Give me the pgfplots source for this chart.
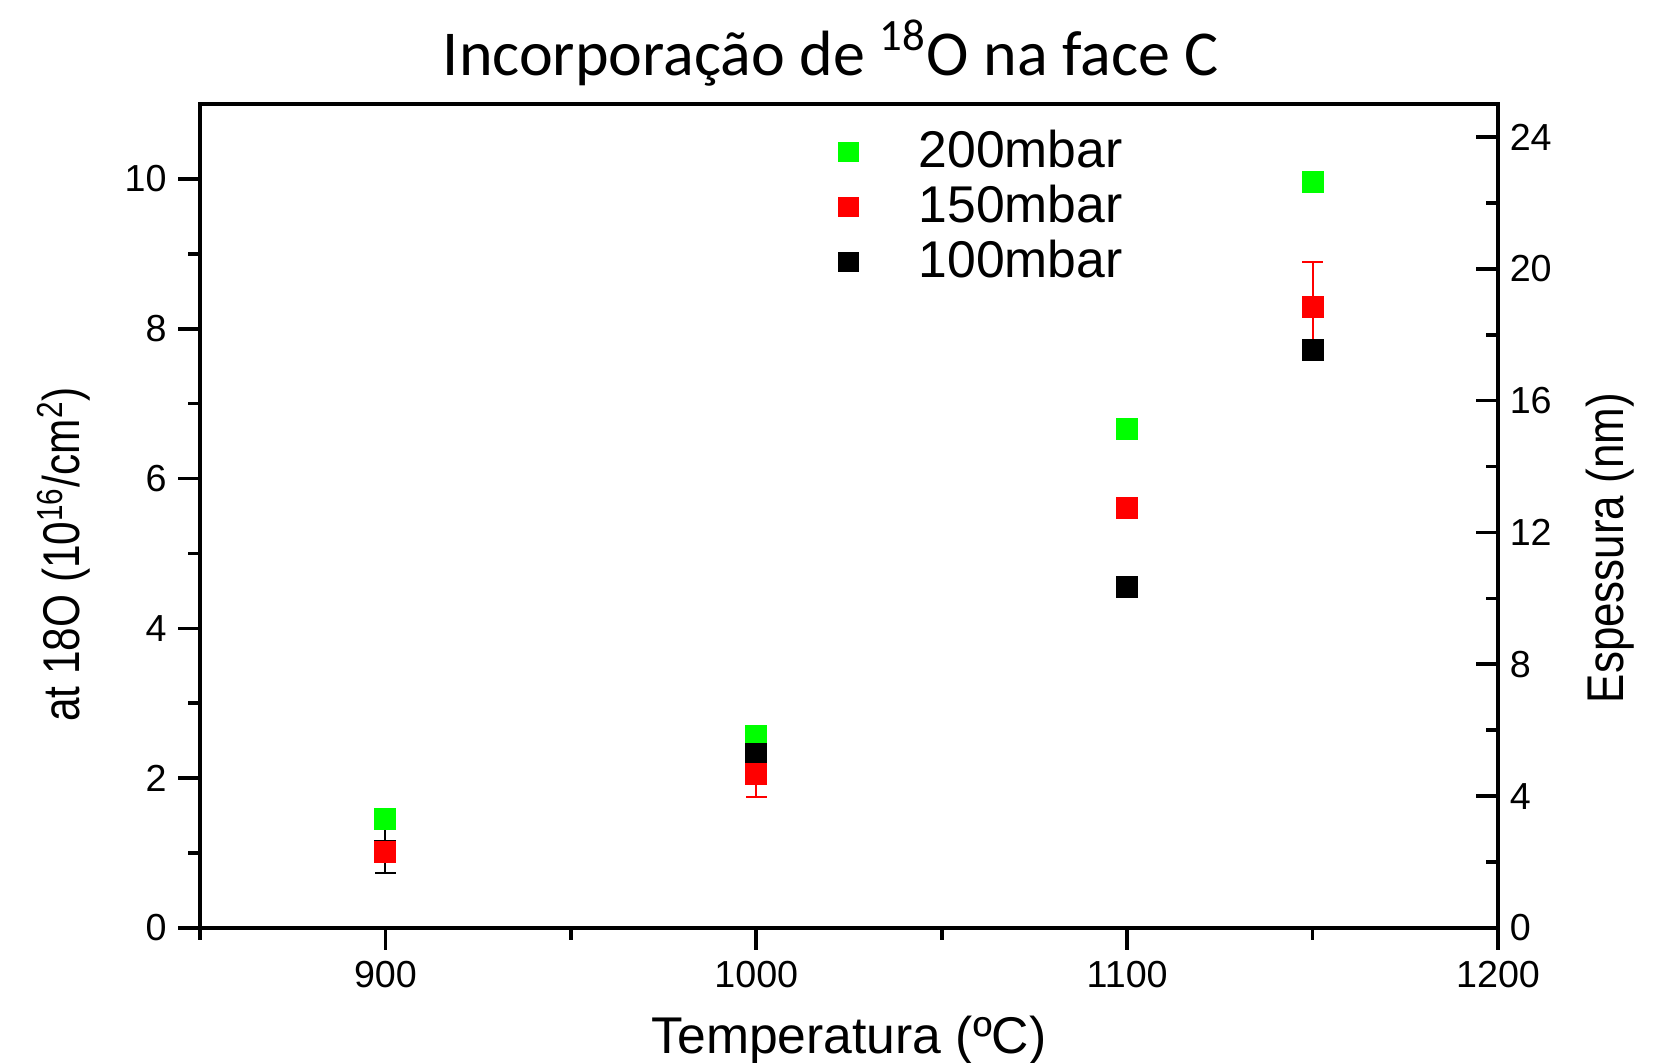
\documentclass[border=0pt]{standalone}
\usepackage{fontspec}
\setmainfont{Liberation Sans}
\newfontfamily\calibri{Carlito}
\usepackage{pgfplots}
\pgfplotsset{compat=1.18}
\definecolor{pgreen}{RGB}{0,255,0}
\definecolor{pred}{RGB}{255,0,0}

\pgfplotsset{
    common/.style={
        width=389.4pt, height=247.2pt, scale only axis,
        xmin=850, xmax=1200,
        /pgf/number format/assume math mode=true,
        /pgf/number format/1000 sep={},
        ticklabel style={font=\fontsize{11.3}{13}\selectfont},
        axis line style={line width=1.1pt},
        tick style={line width=1.1pt, black},
        major tick length=6.5pt, minor tick length=3.5pt,
        label style={font=\fontsize{15.5}{18}\selectfont},
    },
    legimg/.style={mark=square*, mark size=2.9pt,
        legend image code/.code={%
            \path[##1] plot[only marks] coordinates {(0.3cm,0cm)};
            \path (0cm,0cm) (1.0cm,0cm);}},
}

\begin{document}
\begin{tikzpicture}
\begin{axis}[
    common, name=ax,
    ymin=0, ymax=11,
    xtick={900,1000,1100,1200},
    minor xtick={850,950,1050,1150},
    ytick={0,2,...,10},
    minor ytick={1,3,...,9},
    xtick pos=bottom, ytick pos=left,
    tick align=outside,
    title={\calibri\fontsize{19.2}{22}\selectfont Incorporação de \textsuperscript{18}O na face C},
    title style={at={(axis description cs:0.486,1.038)}, anchor=center},
    xlabel={Temperatura (ºC)},
    xlabel style={at={(axis description cs:0.5,-0.1365)}, anchor=center},
    ylabel={\scalebox{0.82}[1]{at 18O (10\textsuperscript{16}/cm\textsuperscript{2})}},
    ylabel style={at={(axis description cs:-0.105,0.4535)}, anchor=center},
    legend style={draw=none, fill=none, inner sep=0pt, outer sep=0pt,
        at={(axis description cs:0.477,0.968)}, anchor=north west,
        font=\fontsize{15.5}{18}\selectfont,
        nodes={inner sep=1pt, text height=10pt, text depth=1pt},
        row sep=3.5pt},
    legend cell align=left,
    clip=false,
]
% 200 mbar
\addplot[only marks, mark=square*, mark size=3.1pt, color=pgreen, forget plot]
    coordinates {(900,1.46) (1000,2.56) (1100,6.66) (1150,9.96)};
% 100 mbar
\addplot[only marks, mark=square*, mark size=3.1pt, color=black, forget plot,
    error bars/.cd, y dir=both, y explicit,
    error bar style={line width=0.6pt},
    error mark options={rotate=90, mark size=3.1pt, line width=0.6pt}]
    coordinates {(900,1.03) +- (0,0.30) (1000,2.32) +- (0,0.29) (1100,4.55) +- (0,0) (1150,7.72) +- (0,0)};
% 150 mbar
\addplot[only marks, mark=square*, mark size=3.1pt, color=pred, forget plot,
    error bars/.cd, y dir=both, y explicit,
    error bar style={line width=0.6pt},
    error mark options={rotate=90, mark size=3.1pt, line width=0.6pt}]
    coordinates {(900,1.02) +- (0,0) (1000,2.05) +- (0,0.30) (1100,5.61) +- (0,0) (1150,8.29) +- (0,0.60)};
\addlegendimage{legimg, color=pgreen}
\addlegendentry{200mbar}
\addlegendimage{legimg, color=pred}
\addlegendentry{150mbar}
\addlegendimage{legimg, color=black}
\addlegendentry{100mbar}
\end{axis}
\begin{axis}[
    common,
    ymin=0, ymax=25,
    axis y line*=right, axis x line=none,
    ytick={0,4,...,24},
    minor ytick={2,6,...,22},
    tick align=inside,
    ylabel={\scalebox{0.85}[1]{Espessura (nm)}},
    ylabel style={at={(axis description cs:1.0863,0.461)}, anchor=center},
]
\addplot[draw=none] coordinates {(900,0)};
\end{axis}
\pgfresetboundingbox
\path ([xshift=-60pt, yshift=-40.2pt]ax.south west) rectangle ([xshift=50.4pt, yshift=31.2pt]ax.north east);
\end{tikzpicture}
\end{document}
